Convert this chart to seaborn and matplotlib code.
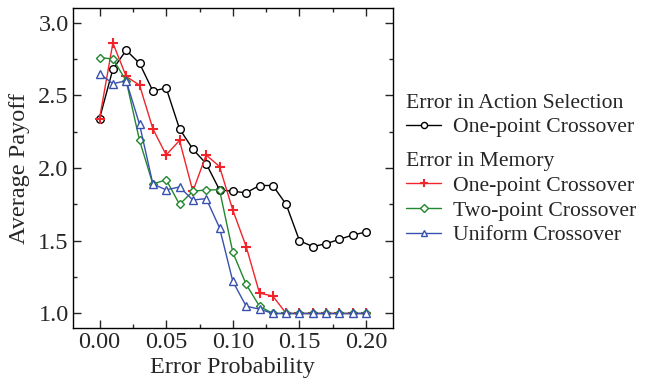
import numpy as np
import pandas as pd
import matplotlib
matplotlib.use("Agg")
import matplotlib.pyplot as plt
from matplotlib.ticker import MultipleLocator
import seaborn as sns

# Error probabilities (x axis)
error_prob = [0.00, 0.01, 0.02, 0.03, 0.04, 0.05, 0.06, 0.07, 0.08, 0.09, 0.10,
              0.11, 0.12, 0.13, 0.14, 0.15, 0.16, 0.17, 0.18, 0.19, 0.20]

# Error in action selection, one-point crossover
action_onepoint = [2.34, 2.68, 2.81, 2.72, 2.53, 2.55, 2.27, 2.13, 2.03, 1.85, 1.84,
                   1.83, 1.88, 1.88, 1.75, 1.50, 1.46, 1.48, 1.51, 1.54, 1.56]

# Error in memory
memory_onepoint = [2.34, 2.86, 2.63, 2.57, 2.27, 2.09, 2.19, 1.84, 2.09, 2.01, 1.71,
                   1.46, 1.14, 1.12, 1.00, 1.00, 1.00, 1.00, 1.00, 1.00, 1.00]
memory_twopoint = [2.76, 2.75, 2.60, 2.19, 1.89, 1.92, 1.75, 1.84, 1.85, 1.85, 1.42,
                   1.20, 1.05, 1.00, 1.00, 1.00, 1.00, 1.00, 1.00, 1.00, 1.00]
memory_uniform = [2.65, 2.58, 2.60, 2.30, 1.89, 1.85, 1.87, 1.78, 1.79, 1.59, 1.22,
                  1.05, 1.03, 1.00, 1.00, 1.00, 1.00, 1.00, 1.00, 1.00, 1.00]

x_ticks = [0.00, 0.05, 0.10, 0.15, 0.20]
y_ticks = [1.0, 1.5, 2.0, 2.5, 3.0]

sns.set_style("ticks")
plt.rcParams["font.family"] = ["Liberation Serif", "DejaVu Serif"]

fig = plt.figure(figsize=(6.45, 3.85), dpi=100)
ax = fig.add_axes([0.113, 0.148, 0.496, 0.831])

series = [
    ("act_one", action_onepoint, "black", "o", 5.5),
    ("mem_one", memory_onepoint, "#f0242a", "+", 7.5),
    ("mem_two", memory_twopoint, "#22872e", "D", 4.5),
    ("mem_uni", memory_uniform, "#3850b0", "^", 5.5),
]

handles = {}
for name, vals, color, mk, ms in series:
    df = pd.DataFrame({"p": error_prob, "payoff": vals})
    sns.lineplot(data=df, x="p", y="payoff", ax=ax, color=color, lw=1.0,
                 marker=mk, markersize=ms, markerfacecolor="white" if mk != "+" else color,
                 markeredgecolor=color, markeredgewidth=1.0 if mk != "+" else 1.5,
                 zorder=3)
    handles[name] = ax.lines[-1]

ax.set_xlim(-0.02, 0.22)
ax.set_ylim(0.9, 3.1)
ax.set_xticks(x_ticks)
ax.set_yticks(y_ticks)
ax.set_xticklabels([f"{v:.2f}" for v in x_ticks])
ax.set_yticklabels([f"{v:.1f}" for v in y_ticks])
ax.xaxis.set_minor_locator(MultipleLocator(0.025))
ax.yaxis.set_minor_locator(MultipleLocator(0.25))
ax.tick_params(which="both", direction="in", top=True, right=True, labelsize=17.5, width=1.0)
ax.tick_params(which="major", length=6, pad=3)
ax.tick_params(which="minor", length=3)
for s in ax.spines.values():
    s.set_linewidth(1.0)
    s.set_color("black")

ax.set_xlabel("Error Probability", fontsize=17.5, labelpad=3)
ax.set_ylabel("Average Payoff", fontsize=17.5, labelpad=6)

legend_kw = dict(loc="upper left", frameon=False, fontsize=15.6, title_fontsize=15.6,
                 alignment="left", handlelength=1.6, handletextpad=0.55,
                 borderaxespad=0.0, borderpad=0.0, labelspacing=0.22, markerscale=0.8)
leg1 = fig.legend([handles["act_one"]], ["One-point Crossover"],
                  title="Error in Action Selection",
                  bbox_to_anchor=(0.630, 0.757), **legend_kw)
leg2 = fig.legend([handles["mem_one"], handles["mem_two"], handles["mem_uni"]],
                  ["One-point Crossover", "Two-point Crossover", "Uniform Crossover"],
                  title="Error in Memory",
                  bbox_to_anchor=(0.630, 0.606), **legend_kw)

fig.savefig("out.png", dpi=100)
